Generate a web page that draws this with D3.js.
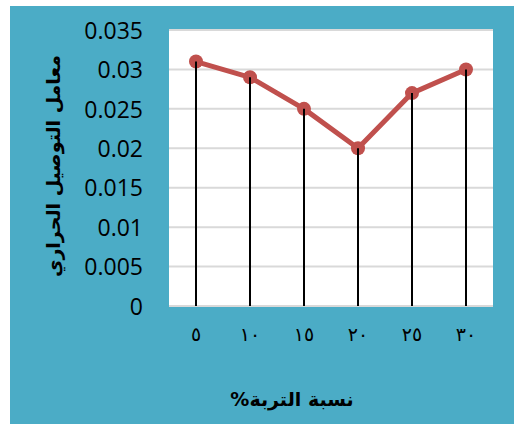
<!DOCTYPE html>
<html>
<head>
<meta charset="utf-8">
<script src="https://cdn.jsdelivr.net/npm/d3@7"></script>
<style>
  html, body { margin: 0; padding: 0; background: #ffffff; }
  svg { display: block; }
</style>
</head>
<body>
<svg id="chart" width="514" height="428"></svg>
<script>
// Soil percentage categories (Arabic-Indic digits) and thermal conductivity values
const categories = ["٥", "١٠", "١٥", "٢٠", "٢٥", "٣٠"];
const conductivity = [0.031, 0.029, 0.025, 0.02, 0.027, 0.03];
const yTicks = [0, 0.005, 0.01, 0.015, 0.02, 0.025, 0.03, 0.035];
const yTickLabels = ["0", "0.005", "0.01", "0.015", "0.02", "0.025", "0.03", "0.035"];
const xTitle = "نسبة التربة%";
const yTitle = "معامل التوصيل الحراري";

const svg = d3.select("#chart");

// chart background panel
svg.append("rect")
  .attr("x", 10).attr("y", 6)
  .attr("width", 504).attr("height", 418)
  .attr("fill", "#4BACC6");

const plot = { left: 169, right: 493, top: 30, bottom: 306 };

// plot area
svg.append("rect")
  .attr("x", plot.left).attr("y", plot.top)
  .attr("width", plot.right - plot.left).attr("height", plot.bottom - plot.top)
  .attr("fill", "#ffffff");

const x = d3.scaleBand().domain(categories).range([plot.left, plot.right]);
const y = d3.scaleLinear().domain([0, 0.035]).range([plot.bottom, plot.top]);

// horizontal gridlines
svg.append("g")
  .selectAll("line")
  .data(yTicks)
  .join("line")
  .attr("x1", plot.left).attr("x2", plot.right)
  .attr("y1", d => y(d)).attr("y2", d => y(d))
  .attr("stroke", "#D9D9D9")
  .attr("stroke-width", 2);

// y axis labels
const yAxis = d3.axisLeft(y)
  .tickValues(yTicks)
  .tickFormat((d, i) => yTickLabels[i])
  .tickSize(0)
  .tickPadding(0);
const gy = svg.append("g")
  .attr("transform", `translate(${plot.left - 26},0)`)
  .call(yAxis);
gy.select(".domain").remove();
gy.selectAll("text")
  .attr("font-family", "'Open Sans', sans-serif")
  .attr("font-size", 23)
  .attr("fill", "#000000")
  .attr("dy", "0.36em");

// x axis labels
const xAxis = d3.axisBottom(x).tickSize(0).tickPadding(0);
const gx = svg.append("g")
  .attr("transform", `translate(0,${plot.bottom + 21})`)
  .call(xAxis);
gx.select(".domain").remove();
gx.selectAll("text")
  .attr("font-family", "'DejaVu Sans', sans-serif")
  .attr("font-size", 19)
  .attr("letter-spacing", 2)
  .attr("fill", "#000000");

const cx = d => x(d) + x.bandwidth() / 2;
const data = categories.map((c, i) => ({ c, v: conductivity[i] }));

// drop lines from each point to the axis
svg.append("g")
  .selectAll("line")
  .data(data)
  .join("line")
  .attr("x1", d => cx(d.c)).attr("x2", d => cx(d.c))
  .attr("y1", d => y(d.v)).attr("y2", plot.bottom)
  .attr("stroke", "#000000")
  .attr("stroke-width", 2);

// series line
const line = d3.line().x(d => cx(d.c)).y(d => y(d.v));
svg.append("path")
  .datum(data)
  .attr("d", line)
  .attr("fill", "none")
  .attr("stroke", "#C0504D")
  .attr("stroke-width", 5)
  .attr("stroke-linejoin", "round");

// markers
svg.append("g")
  .selectAll("circle")
  .data(data)
  .join("circle")
  .attr("cx", d => cx(d.c)).attr("cy", d => y(d.v))
  .attr("r", 7)
  .attr("fill", "#C0504D");

// drop lines' top segment over markers
svg.append("g")
  .selectAll("line")
  .data(data)
  .join("line")
  .attr("x1", d => cx(d.c)).attr("x2", d => cx(d.c))
  .attr("y1", d => y(d.v)).attr("y2", d => y(d.v) + 8)
  .attr("stroke", "#000000")
  .attr("stroke-width", 2);

// axis titles
svg.append("text")
  .attr("x", 292).attr("y", 400)
  .attr("direction", "rtl")
  .attr("text-anchor", "middle")
  .attr("dominant-baseline", "middle")
  .attr("font-family", "'DejaVu Sans', sans-serif")
  .attr("font-weight", "bold")
  .attr("font-size", 19)
  .attr("fill", "#000000")
  .text(xTitle);

svg.append("text")
  .attr("transform", "translate(54,166) rotate(-90)")
  .attr("direction", "rtl")
  .attr("text-anchor", "middle")
  .attr("dominant-baseline", "middle")
  .attr("font-family", "'DejaVu Sans', sans-serif")
  .attr("font-weight", "bold")
  .attr("font-size", 19)
  .attr("fill", "#000000")
  .text(yTitle);
</script>
</body>
</html>
